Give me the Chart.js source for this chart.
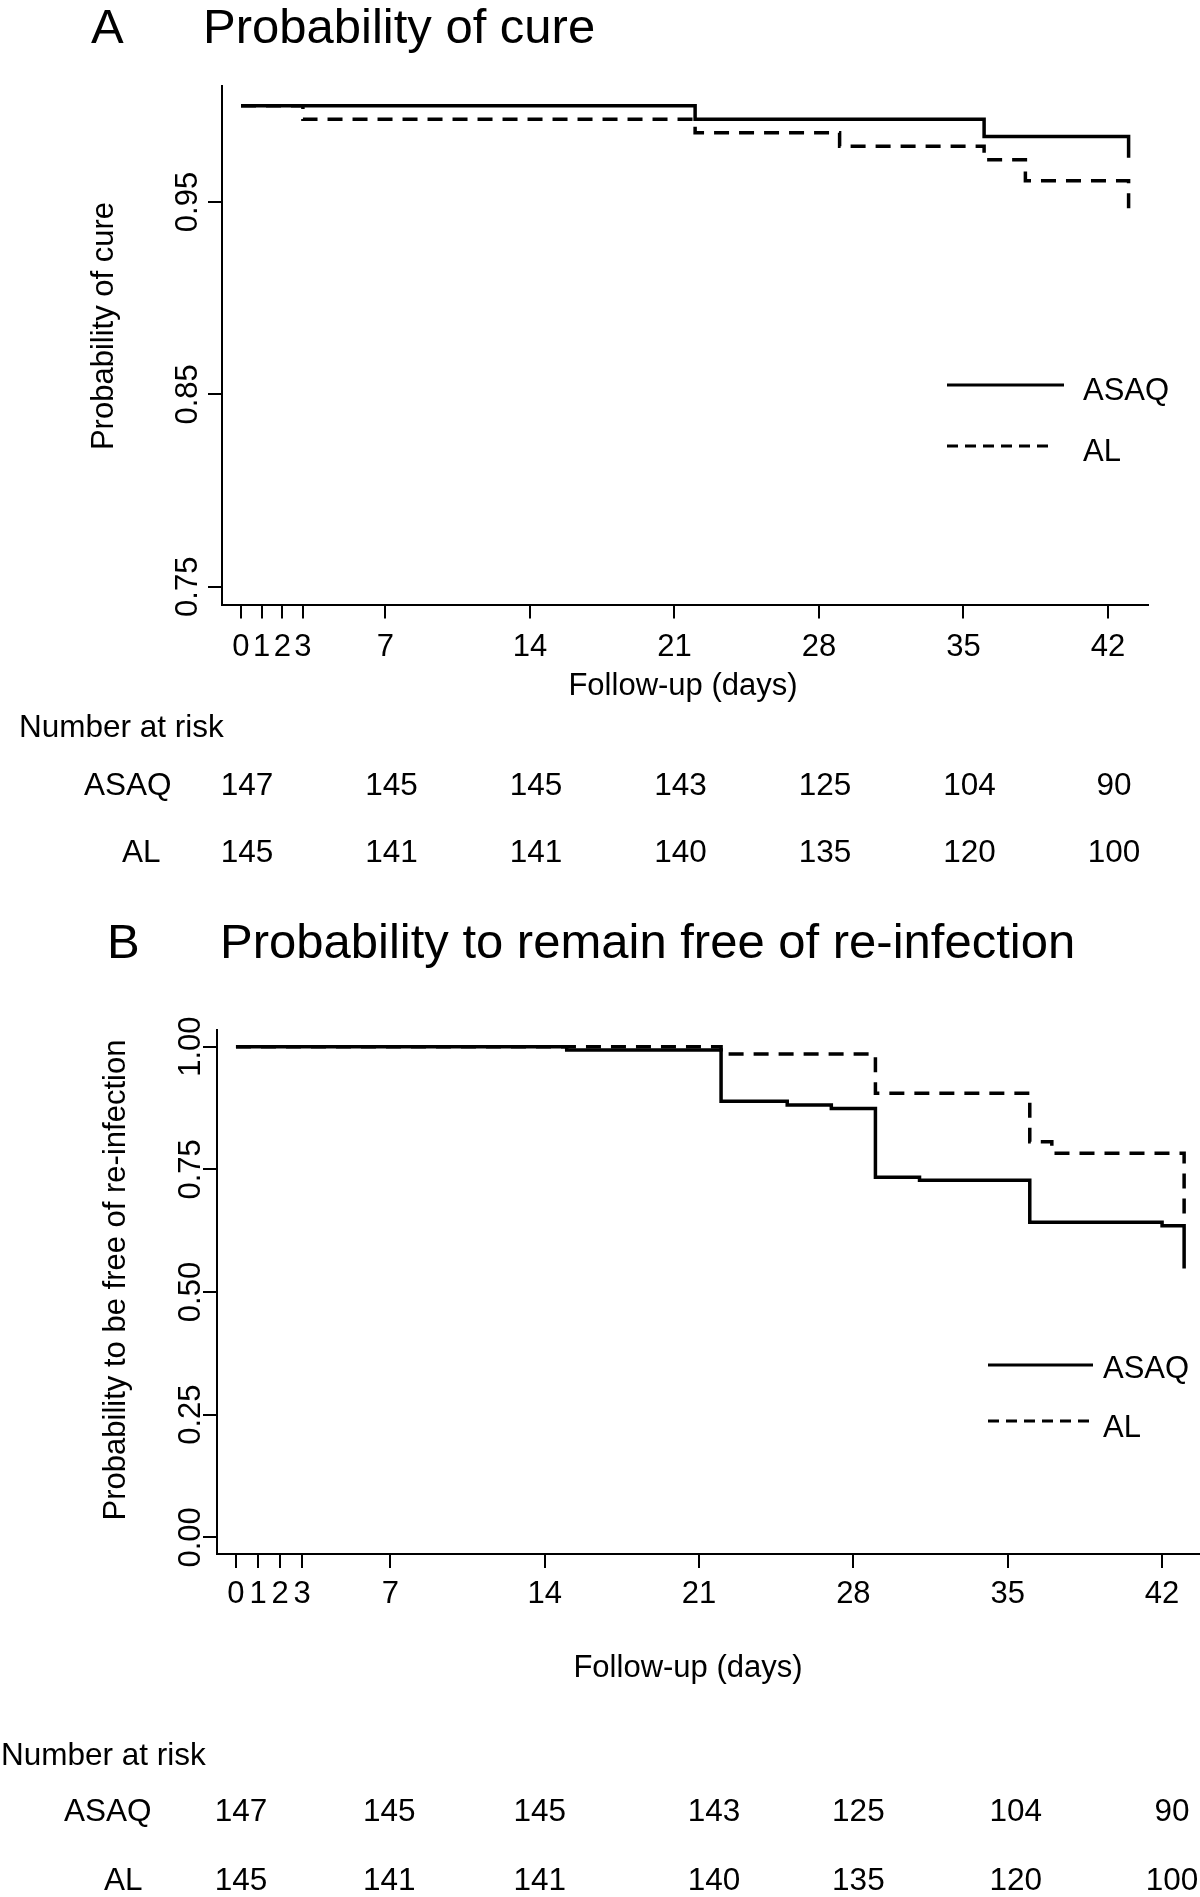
<!DOCTYPE html>
<html>
<head>
<meta charset="utf-8">
<title>Probability of cure / re-infection</title>
<script src="https://cdn.jsdelivr.net/npm/chart.js@4.4.1/dist/chart.umd.min.js"></script>
<style>
    html, body { margin: 0; padding: 0; background: #fff; }
    #page { position: relative; width: 1200px; height: 1897px; background: #fff; }
    canvas { position: absolute; left: 0; }
    #cureCanvas { top: 0; }
    #reinfCanvas { top: 880px; }
</style>
</head>
<body>
<div id="page">
    <canvas id="cureCanvas" width="1200" height="880"></canvas>
    <canvas id="reinfCanvas" width="1200" height="1017"></canvas>
</div>
<script>
// ---- data ----
const xTicks = [0, 1, 2, 3, 7, 14, 21, 28, 35, 42];
const riskDays = [0, 7, 14, 21, 28, 35, 42];
const cureTicks = [0.75, 0.85, 0.95];
const reinfTicks = [0, 0.25, 0.5, 0.75, 1];

// panel A: probability of cure (Kaplan-Meier steps)
const cureAsaqDays = [0, 22, 36, 43];
const cureAsaqProb = [1, 0.993, 0.984, 0.973];
const cureAlDays = [0, 3, 22, 29, 36, 38, 43];
const cureAlProb = [1, 0.993, 0.986, 0.979, 0.972, 0.961, 0.942];

// panel B: probability to remain free of re-infection
const reinfAsaqDays = [0, 15, 22, 25, 27, 29, 31, 36, 42, 43];
const reinfAsaqProb = [1, 0.993, 0.889, 0.881, 0.874, 0.734, 0.728, 0.642, 0.635, 0.548];
const reinfAlDays = [0, 22, 29, 36, 37, 43];
const reinfAlProb = [1, 0.985, 0.905, 0.806, 0.783, 0.657];

// number at risk (same table under both panels)
const atRiskAsaq = [147, 145, 145, 143, 125, 104, 90];
const atRiskAl = [145, 141, 141, 140, 135, 120, 100];

const FONT = '"Liberation Sans", Arial, Helvetica, sans-serif';

function font(size) {
    return `${size}px ${FONT}`;
}

function steps(days, probs) {
    return days.map((d, i) => ({ x: d, y: probs[i] }));
}

function rotatedText(ctx, text, x, y) {
    ctx.save();
    ctx.translate(x, y);
    ctx.rotate(-Math.PI / 2);
    ctx.fillText(text, 0, 0);
    ctx.restore();
}

// All text (titles, tick labels, legend, risk table) drawn on top of the chart
function makeOverlay(lay) {
    return {
        id: 'overlay',
        afterDraw(chart) {
            const ctx = chart.ctx;
            const xs = chart.scales.x;
            const ys = chart.scales.y;
            ctx.save();
            ctx.fillStyle = '#000';
            ctx.strokeStyle = '#000';
            ctx.textBaseline = 'alphabetic';

            // title
            ctx.font = font(49);
            ctx.textAlign = 'left';
            ctx.fillText(lay.letter, lay.letterX, lay.titleY);
            ctx.fillText(lay.title, lay.titleX, lay.titleY);

            ctx.font = font(31);

            // x axis
            ctx.textAlign = 'center';
            xTicks.forEach(v => ctx.fillText(String(v), xs.getPixelForValue(v), lay.xTickY));
            ctx.fillText('Follow-up (days)', lay.xTitleX, lay.xTitleY);

            // y axis (vertical text)
            lay.yTicks.forEach(v => rotatedText(ctx, v.toFixed(2), lay.yTickX, ys.getPixelForValue(v)));
            rotatedText(ctx, lay.yTitle, lay.yTitleX, lay.yTitleY);

            // legend
            const lg = lay.legend;
            ctx.lineWidth = 3;
            ctx.beginPath();
            ctx.moveTo(lg.x1, lg.asaqY);
            ctx.lineTo(lg.x2, lg.asaqY);
            ctx.stroke();
            ctx.setLineDash([11, 7]);
            ctx.beginPath();
            ctx.moveTo(lg.x1, lg.alY);
            ctx.lineTo(lg.x2dash, lg.alY);
            ctx.stroke();
            ctx.setLineDash([]);
            ctx.textAlign = 'left';
            ctx.fillText('ASAQ', lg.textX, lg.asaqTextY);
            ctx.fillText('AL', lg.textX, lg.alTextY);

            // number at risk
            const rk = lay.risk;
            ctx.font = font(31.5);
            ctx.fillText('Number at risk', rk.headX, rk.headY);
            ctx.fillText('ASAQ', rk.asaqX, rk.asaqY);
            ctx.fillText('AL', rk.alX, rk.alY);
            ctx.textAlign = 'center';
            riskDays.forEach((d, i) => {
                const px = xs.getPixelForValue(d) + rk.shift[i];
                ctx.fillText(String(atRiskAsaq[i]), px, rk.asaqY);
                ctx.fillText(String(atRiskAl[i]), px, rk.alY);
            });

            ctx.restore();
        }
    };
}

function createSurvivalChart(canvasId, lay) {
    const ctx = document.getElementById(canvasId).getContext('2d');
    const axisGrid = {
        drawOnChartArea: false,
        drawTicks: true,
        tickLength: 14,
        tickWidth: 2,
        tickColor: '#000',
        color: '#000',
        lineWidth: 2
    };
    const axisBorder = { display: true, color: '#000', width: 2 };

    return new Chart(ctx, {
        type: 'line',
        data: {
            datasets: [{
                label: 'ASAQ',
                data: steps(lay.asaqDays, lay.asaqProb),
                borderColor: '#000',
                borderWidth: 3.5,
                stepped: 'before',
                pointRadius: 0,
                fill: false
            }, {
                label: 'AL',
                data: steps(lay.alDays, lay.alProb),
                borderColor: '#000',
                borderWidth: 3.5,
                borderDash: [15, 10],
                stepped: 'before',
                pointRadius: 0,
                fill: false
            }]
        },
        options: {
            responsive: false,
            animation: false,
            devicePixelRatio: 1,
            layout: {
                padding: { left: 0, top: lay.areaTop, right: lay.padRight, bottom: 0 }
            },
            plugins: {
                legend: { display: false },
                tooltip: { enabled: false },
                title: { display: false }
            },
            scales: {
                x: {
                    type: 'linear',
                    min: lay.xMin,
                    max: lay.xMax,
                    afterBuildTicks: s => { s.ticks = xTicks.map(v => ({ value: v })); },
                    afterFit: s => { s.height = lay.xAxisHeight; },
                    ticks: { display: false, autoSkip: false },
                    grid: axisGrid,
                    border: axisBorder
                },
                y: {
                    type: 'linear',
                    min: lay.yMin,
                    max: lay.yMax,
                    afterBuildTicks: s => { s.ticks = lay.yTicks.map(v => ({ value: v })); },
                    afterFit: s => { s.width = lay.yAxisWidth; },
                    ticks: { display: false, autoSkip: false },
                    grid: axisGrid,
                    border: axisBorder
                }
            }
        },
        plugins: [makeOverlay(lay)]
    });
}

createSurvivalChart('cureCanvas', {
    asaqDays: cureAsaqDays, asaqProb: cureAsaqProb,
    alDays: cureAlDays, alProb: cureAlProb,
    yTicks: cureTicks,
    xMin: -0.92, xMax: 43.94, yMin: 0.7407, yMax: 1.0103,
    areaTop: 86, padRight: 52, yAxisWidth: 222, xAxisHeight: 275.4,
    letter: 'A', letterX: 91, title: 'Probability of cure', titleX: 203, titleY: 43,
    xTickY: 656, xTitleX: 683, xTitleY: 695,
    yTickX: 197, yTitle: 'Probability of cure', yTitleX: 113, yTitleY: 326,
    legend: { x1: 947, x2: 1064, x2dash: 1048, asaqY: 385, alY: 446, textX: 1083, asaqTextY: 400, alTextY: 461 },
    risk: { headX: 19, headY: 737, asaqX: 84, asaqY: 795, alX: 122, alY: 862, shift: [6, 6, 6, 6, 6, 6, 6] }
});

createSurvivalChart('reinfCanvas', {
    asaqDays: reinfAsaqDays, asaqProb: reinfAsaqProb,
    alDays: reinfAlDays, alProb: reinfAlProb,
    yTicks: reinfTicks,
    xMin: -0.86, xMax: 43.72, yMin: -0.034, yMax: 1.034,
    areaTop: 150, padRight: 0, yAxisWidth: 217, xAxisHeight: 343,
    letter: 'B', letterX: 107, title: 'Probability to remain free of re-infection', titleX: 220, titleY: 78,
    xTickY: 723, xTitleX: 688, xTitleY: 797,
    yTickX: 200, yTitle: 'Probability to be free of re-infection', yTitleX: 125, yTitleY: 400,
    legend: { x1: 988, x2: 1093, x2dash: 1093, asaqY: 485, alY: 541, textX: 1103, asaqTextY: 498, alTextY: 557 },
    risk: { headX: 1, headY: 885, asaqX: 64, asaqY: 941, alX: 104, alY: 1010, shift: [5, -1, -5, 15, 5, 8, 10] }
});
</script>
</body>
</html>
